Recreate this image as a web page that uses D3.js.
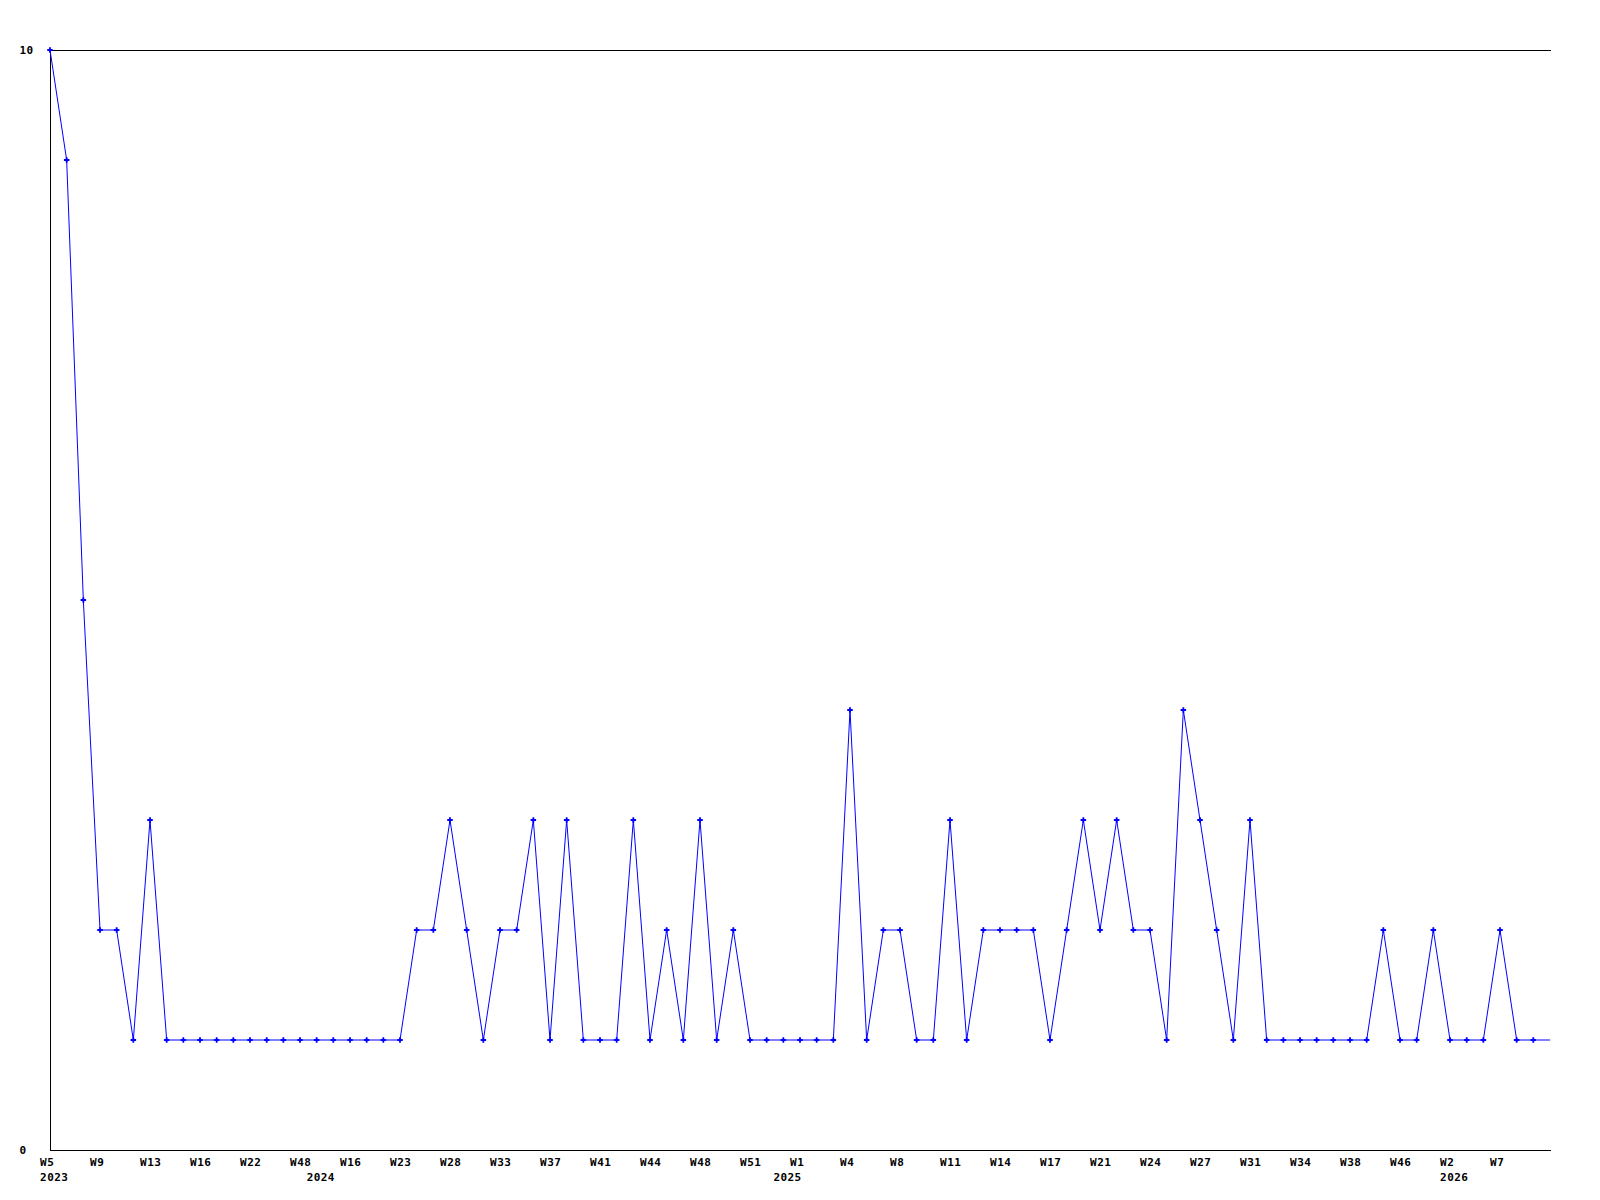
<!DOCTYPE html>
<html>
<head>
<meta charset="utf-8">
<script src="https://cdn.jsdelivr.net/npm/d3@7"></script>
<style>
  html, body { margin: 0; padding: 0; background: #fff; }
  svg text { font-family: "DejaVu Sans Mono", "Liberation Mono", monospace; font-weight: bold; font-size: 11px; letter-spacing: 0.4px; fill: #000; }
</style>
</head>
<body>
<script>
// ---- data ----
const values = [
  10, 9, 5, 2, 2, 1, 3,
  1, 1, 1, 1, 1, 1, 1, 1, 1, 1, 1, 1, 1, 1, 1,
  2, 2, 3, 2, 1, 2, 2, 3, 1, 3, 1, 1, 1, 3, 1, 2, 1, 3, 1, 2,
  1, 1, 1, 1, 1, 1, 4, 1, 2, 2, 1, 1, 3, 1, 2, 2, 2, 2, 1, 2,
  3, 2, 3, 2, 2, 1, 4, 3, 2, 1, 3,
  1, 1, 1, 1, 1, 1, 1,
  2, 1, 1, 2, 1, 1, 1, 2, 1, 1, 1
];
const weekLabels = ["W5","W9","W13","W16","W22","W48","W16","W23","W28","W33",
  "W37","W41","W44","W48","W51","W1","W4","W8","W11","W14",
  "W17","W21","W24","W27","W31","W34","W38","W46","W2","W7"];
const weekLabelIndex = weekLabels.map((d, i) => i * 3);
const yearLabels = ["2023", "2024", "2025", "2026"];
const yearLabelIndex = [0, 16, 44, 84];
const yTicks = [0, 10];

// ---- chart ----
const W = 1600, H = 1200;
const svg = d3.select("body").append("svg").attr("width", W).attr("height", H);

const x = d3.scaleLinear().domain([0, values.length - 1]).range([50, 1550]);
const y = d3.scaleLinear().domain([0, 10]).range([1150, 50]);

// frame lines
svg.append("line").attr("x1", 50).attr("x2", 1551).attr("y1", y(10) + 0.5).attr("y2", y(10) + 0.5)
  .attr("stroke", "#000").attr("stroke-width", 1).attr("shape-rendering", "crispEdges");

// x axis (weeks)
const xAxis = d3.axisBottom(x).tickValues(weekLabelIndex)
  .tickFormat((d, i) => weekLabels[i]).tickSize(0).tickPadding(0);
const gx = svg.append("g").attr("transform", `translate(0,${y(0) + 0.5})`).call(xAxis);
gx.select(".domain").attr("d", `M50,0H1551`).attr("stroke", "#000").attr("shape-rendering", "crispEdges");
gx.selectAll("text").attr("text-anchor", "start").attr("dx", -10.4).attr("y", 15.5).attr("dy", 0)
  .attr("font-size", null).attr("font-family", null);

// x axis (years)
const yearAxis = d3.axisBottom(x).tickValues(yearLabelIndex)
  .tickFormat((d, i) => yearLabels[i]).tickSize(0).tickPadding(0);
const gyr = svg.append("g").attr("transform", `translate(0,${y(0) + 0.5})`).call(yearAxis);
gyr.select(".domain").remove();
gyr.selectAll("text").attr("text-anchor", "start").attr("dx", -10.4).attr("y", 30.5).attr("dy", 0)
  .attr("font-size", null).attr("font-family", null);

// y axis
const yAxis = d3.axisLeft(y).tickValues(yTicks).tickFormat(d3.format("d")).tickSize(0).tickPadding(0);
const gy = svg.append("g").attr("transform", "translate(50.5,0)").call(yAxis);
gy.select(".domain").attr("d", `M0,${y(10)}V${y(0) + 1}`).attr("stroke", "#000").attr("shape-rendering", "crispEdges");
gy.selectAll("text").attr("text-anchor", "start").attr("x", -31).attr("dy", "0.35em")
  .attr("font-size", null).attr("font-family", null);

// line
const line = d3.line().x((d, i) => x(i)).y(d => y(d));
svg.append("path").datum(values).attr("d", line)
  .attr("fill", "none").attr("stroke", "#0000ff").attr("stroke-width", 1);

// markers (last point sits on the edge, no marker)
svg.append("g").selectAll("path").data(values.slice(0, values.length - 1)).join("path")
  .attr("transform", (d, i) => `translate(${x(i)},${y(d)})`)
  .attr("d", d3.symbol().type(d3.symbolCross).size(17))
  .attr("fill", "#0000ff");
</script>
</body>
</html>
